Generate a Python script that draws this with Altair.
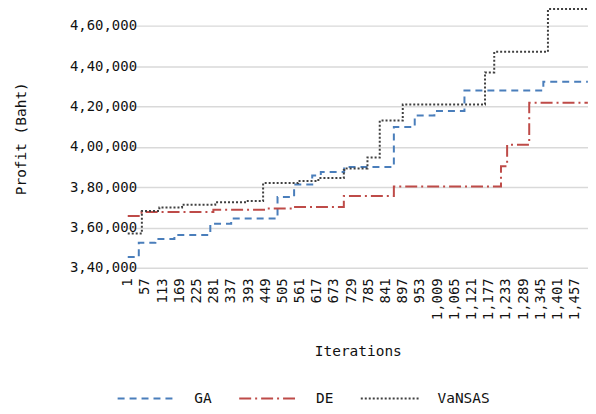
import altair as alt
import pandas as pd

# ---- data ----
series_names = ["GA", "DE", "VaNSAS"]

ga_iter = [1, 37, 91, 153, 270, 338, 489, 543, 602, 630, 706, 868, 936, 1000, 1098, 1355, 1500]
ga_val = [345300, 352400, 354300, 356300, 361800, 364400, 375100, 381300, 385800, 387500,
          390000, 409800, 415500, 417800, 427900, 432300, 432300]

de_iter = [1, 46, 280, 455, 540, 705, 868, 1217, 1237, 1309, 1500]
de_val = [365700, 367700, 368800, 369400, 370200, 375600, 380300, 390400, 401000, 421900, 421900]

va_iter = [1, 47, 104, 178, 286, 383, 442, 556, 622, 705, 714, 782, 822, 897, 1165, 1195, 1370, 1500]
va_val = [357000, 368200, 369900, 371300, 372500, 373100, 382000, 383000, 384500, 388500,
          389300, 394700, 413000, 421000, 436900, 447100, 468300, 468300]

x_ticks = list(range(1, 1501, 56))
y_ticks = [340000, 360000, 380000, 400000, 420000, 440000, 460000]

colors = ["#4a7ebb", "#be4b48", "#404040"]
dashes = [[7, 5], [12, 4, 2, 4], [2, 2]]

rows = []
for name, its, vals in [("GA", ga_iter, ga_val), ("DE", de_iter, de_val), ("VaNSAS", va_iter, va_val)]:
    for k, (i, v) in enumerate(zip(its, vals)):
        rows.append({"series": name, "iter": i, "profit": v, "order": k})
df = pd.DataFrame(rows)

FONT = "DejaVu Sans Mono"

leg = dict(title=None, orient="none", direction="horizontal",
           legendX=-11, legendY=360,
           symbolType="stroke", symbolSize=3600,
           symbolStrokeWidth=2, labelOffset=16,
           columnPadding=23, gridAlign="each")

chart = alt.Chart(df).mark_line(interpolate="step-after", strokeWidth=2).encode(
    x=alt.X("iter:Q",
            scale=alt.Scale(domain=[0.5, 1500.5], nice=False, zero=False),
            axis=alt.Axis(values=x_ticks, format=",d", labelAngle=-90, grid=False,
                          ticks=False, tickSize=0, domain=False, labelPadding=10,
                          labelFlush=False, labelOverlap=False,
                          title="Iterations", titleY=84, titleBaseline="middle")),
    y=alt.Y("profit:Q",
            scale=alt.Scale(domain=[340000, 468500], nice=False, zero=False),
            axis=alt.Axis(values=y_ticks,
                          labelExpr="substring(toString(datum.value),0,1)+','+substring(toString(datum.value),1,3)+','+substring(toString(datum.value),3,6)",
                          grid=True, gridColor="#d9d9d9", gridWidth=1.5,
                          ticks=False, tickSize=0, domain=False, labelPadding=-9,
                          labelFlush=False,
                          title="Profit (Baht)", titleX=-106, titleY=130,
                          titleBaseline="middle", titleAngle=-90)),
    color=alt.Color("series:N",
                    scale=alt.Scale(domain=series_names, range=colors),
                    legend=alt.Legend(**leg)),
    strokeDash=alt.StrokeDash("series:N",
                              scale=alt.Scale(domain=series_names, range=dashes),
                              legend=alt.Legend(**leg)),
    order="order:Q",
).properties(
    width=462, height=260,
    autosize=alt.AutoSizeParams(type="none"),
    padding={"left": 120, "top": 0, "right": 0, "bottom": 138},
).configure_view(stroke=None).configure_axis(
    labelFont=FONT, titleFont=FONT, labelFontSize=14, titleFontSize=14.5,
    labelColor="#111", titleColor="#111", titleFontWeight="normal",
).configure_legend(
    labelFont=FONT, labelFontSize=14.5, labelColor="#111",
)

chart.save("out.html", embed_options={"renderer": "svg", "actions": False})
